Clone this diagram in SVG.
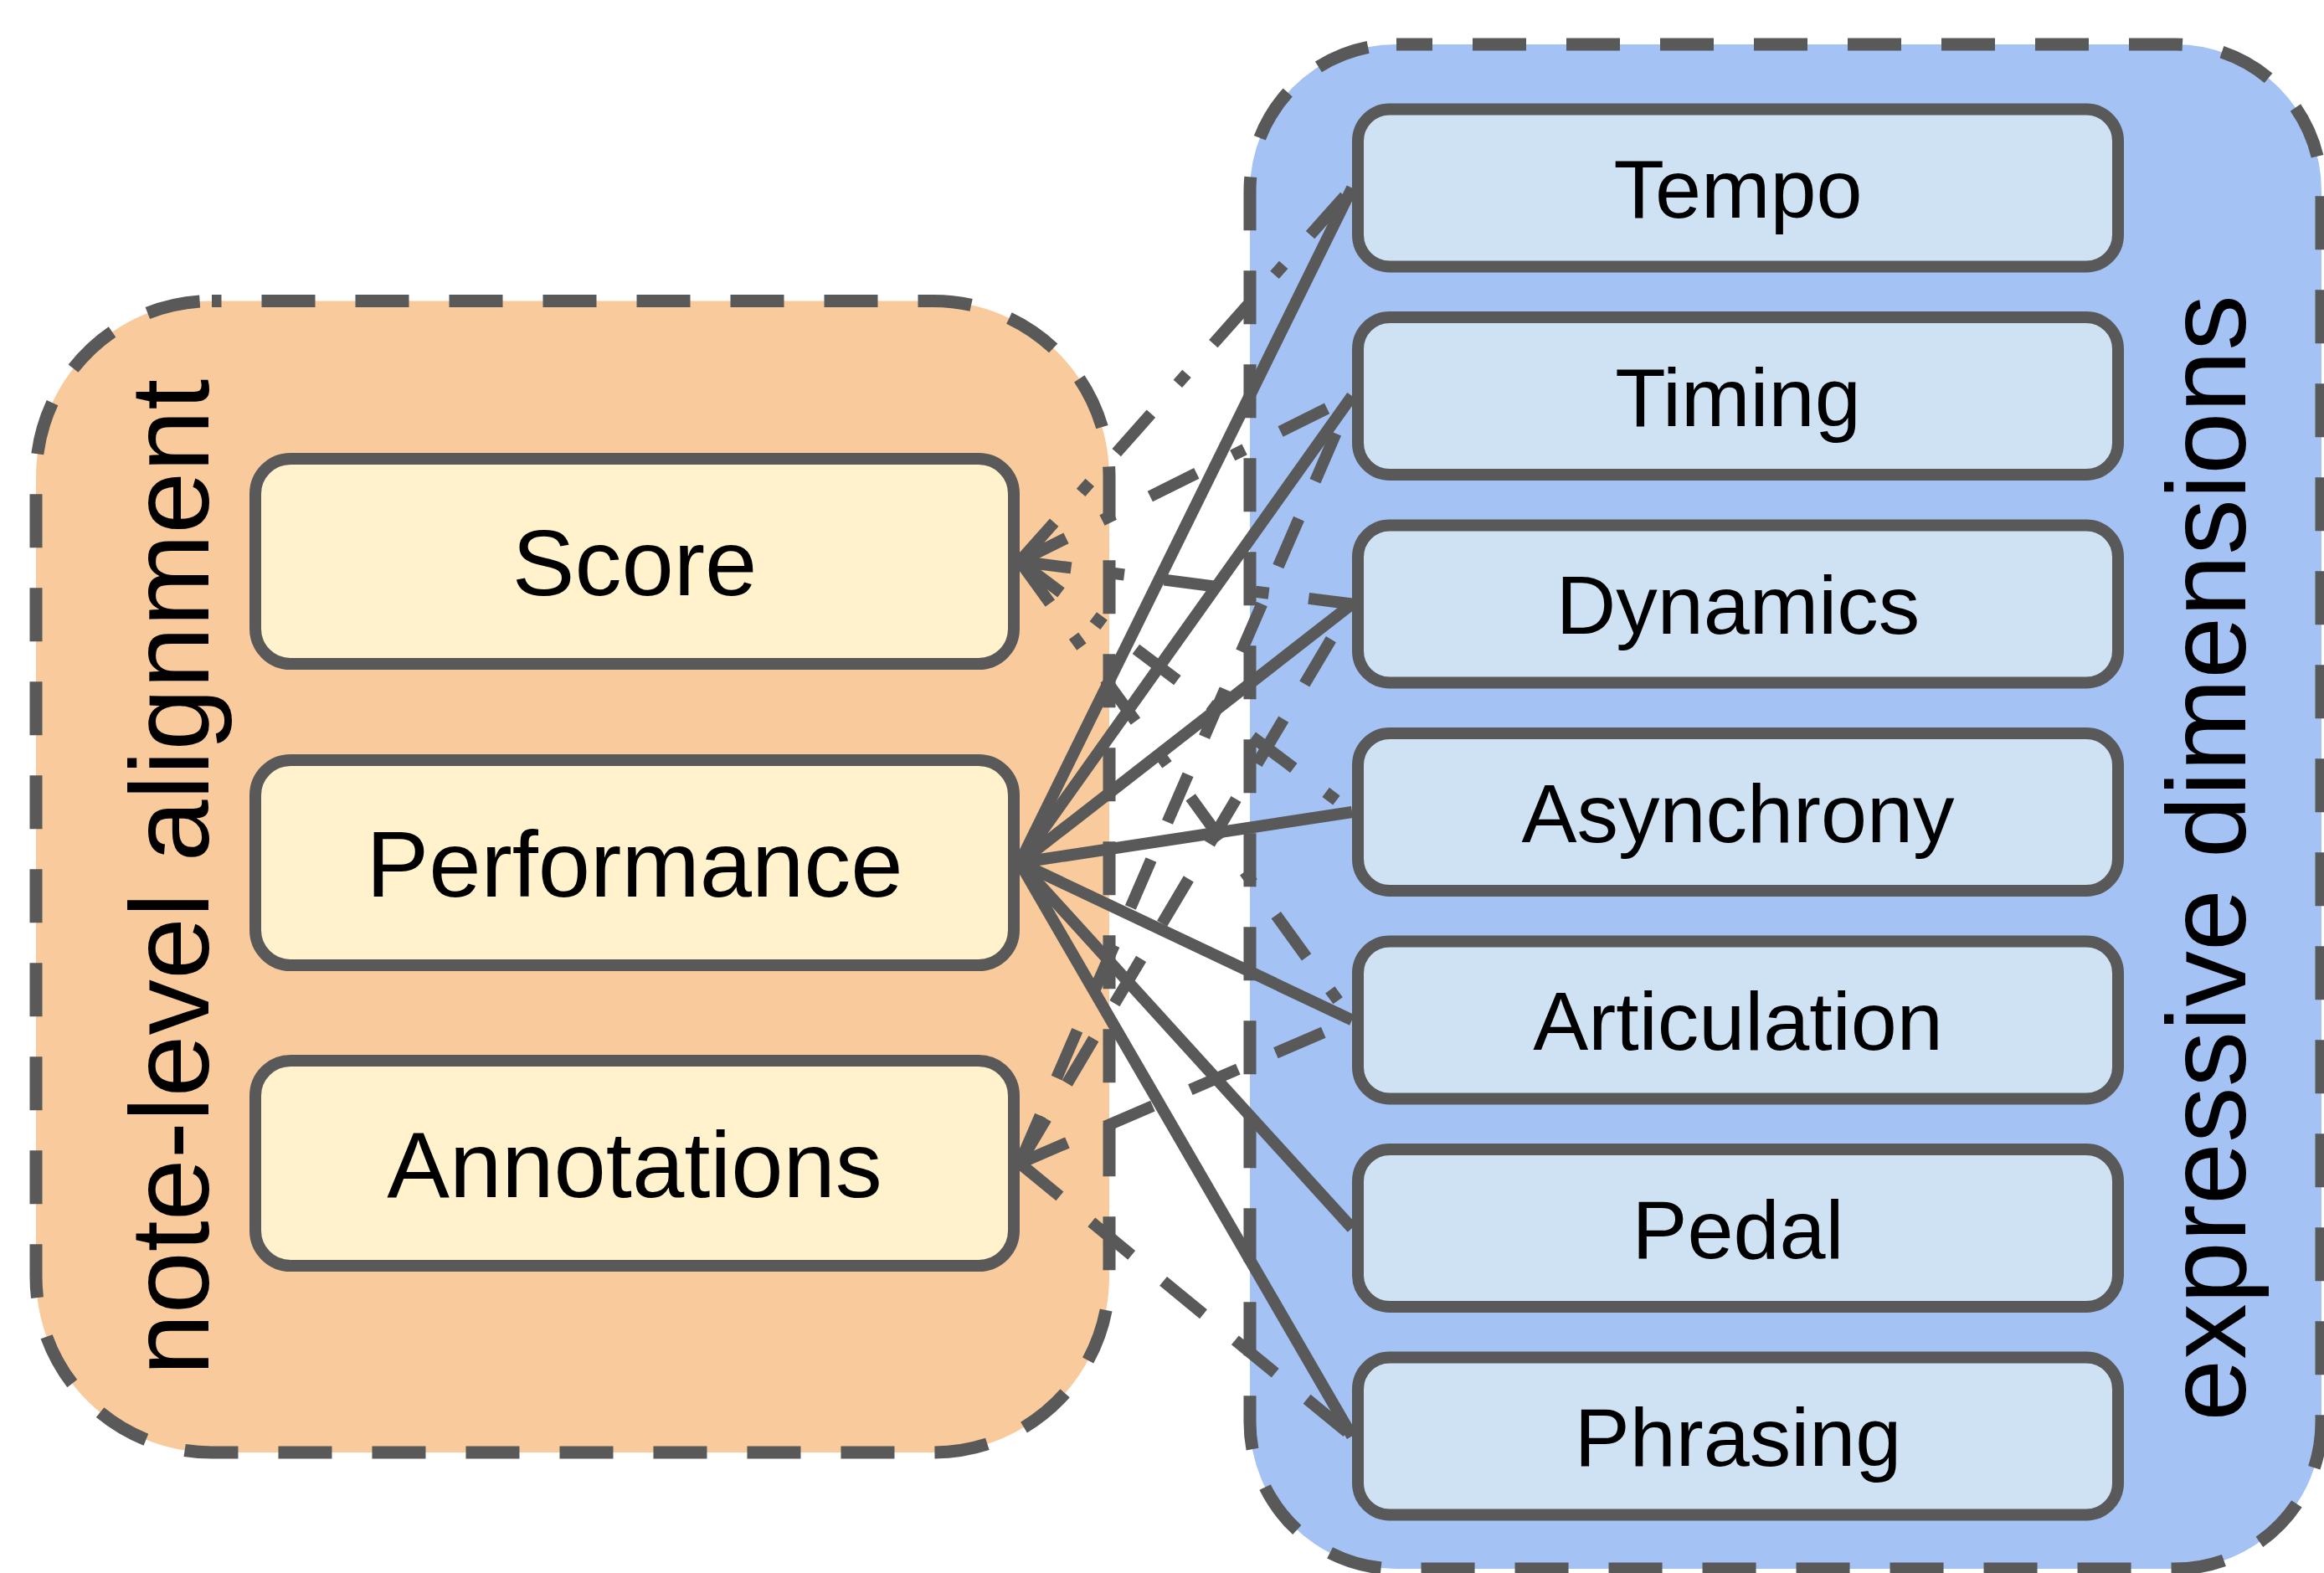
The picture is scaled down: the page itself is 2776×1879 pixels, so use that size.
<svg xmlns="http://www.w3.org/2000/svg" width="2776" height="1879" viewBox="0 0 2776 1879">
<style>
.grp{stroke:#595959;stroke-width:15;stroke-dasharray:64 48;}
.box{stroke:#595959;stroke-width:14;}
.lbox{fill:#fff2cc;}
.rbox{fill:#cfe2f3;}
text{font-family:"Liberation Sans",Arial,Helvetica,sans-serif;fill:#000;text-anchor:middle;}
.lt{font-size:112px;}
.rt{font-size:99px;}
.gt{font-size:133px;}
#edges line{stroke:#595959;stroke-width:14;fill:none;}
#edges .dd{stroke-dasharray:62 48 16 48;}
#edges .da{stroke-dasharray:62 49;}
</style>
<rect width="2776" height="1879" fill="#ffffff"/>
<g id="group-alignment">
<path class="grp" fill="#f9cb9c" stroke-dashoffset="52.5" d="M253 359.5H1115A210 210 0 0 1 1325 569.5V1525A210 210 0 0 1 1115 1735H253A210 210 0 0 1 43 1525V569.5A210 210 0 0 1 253 359.5Z"/>
<text class="gt" transform="translate(249,1048) rotate(-90)">note-level alignment</text>
</g>
<g id="group-dimensions">
<path class="grp" fill="#a4c2f4" stroke-dashoffset="21" d="M1668 53H2598A175 175 0 0 1 2773 228V1699A175 175 0 0 1 2598 1874H1668A175 175 0 0 1 1493 1699V228A175 175 0 0 1 1668 53Z"/>
<text class="gt" transform="translate(2682,1025) rotate(-90)">expressive dimensions</text>
</g>
<g id="edges">
<line x1="1218" y1="1030.5" x2="1615" y2="224.5"/>
<line x1="1218" y1="1030.5" x2="1615" y2="473"/>
<line x1="1218" y1="1030.5" x2="1615" y2="721.5"/>
<line x1="1218" y1="1030.5" x2="1615" y2="970"/>
<line x1="1218" y1="1030.5" x2="1615" y2="1218.5"/>
<line x1="1218" y1="1030.5" x2="1615" y2="1467"/>
<line x1="1218" y1="1030.5" x2="1615" y2="1715.5"/>
<line class="dd" x1="1218" y1="670.5" x2="1615" y2="224.5"/>
<line class="dd" x1="1218" y1="670.5" x2="1615" y2="473"/>
<line class="dd" x1="1218" y1="670.5" x2="1615" y2="721.5"/>
<line class="dd" x1="1218" y1="670.5" x2="1615" y2="970"/>
<line class="dd" x1="1218" y1="670.5" x2="1615" y2="1218.5"/>
<line class="da" x1="1218" y1="1389.5" x2="1615" y2="473"/>
<line class="da" x1="1218" y1="1389.5" x2="1615" y2="721.5"/>
<line class="da" x1="1218" y1="1389.5" x2="1615" y2="1218.5"/>
<line class="da" x1="1218" y1="1389.5" x2="1615" y2="1715.5"/>
</g>
<g id="node-score"><rect class="box lbox" x="305" y="548" width="906" height="245" rx="42"/><text class="lt" x="758" y="711">Score</text></g>
<g id="node-performance"><rect class="box lbox" x="305" y="908" width="906" height="245" rx="42"/><text class="lt" x="758" y="1071">Performance</text></g>
<g id="node-annotations"><rect class="box lbox" x="305" y="1267" width="906" height="245" rx="42"/><text class="lt" x="758" y="1430">Annotations</text></g>
<g id="node-tempo"><rect class="box rbox" x="1622" y="130.5" width="908" height="188" rx="38"/><text class="rt" x="2076" y="260">Tempo</text></g>
<g id="node-timing"><rect class="box rbox" x="1622" y="379" width="908" height="188" rx="38"/><text class="rt" x="2076" y="508.5">Timing</text></g>
<g id="node-dynamics"><rect class="box rbox" x="1622" y="627.5" width="908" height="188" rx="38"/><text class="rt" x="2076" y="757">Dynamics</text></g>
<g id="node-asynchrony"><rect class="box rbox" x="1622" y="876" width="908" height="188" rx="38"/><text class="rt" x="2076" y="1005.5">Asynchrony</text></g>
<g id="node-articulation"><rect class="box rbox" x="1622" y="1124.5" width="908" height="188" rx="38"/><text class="rt" x="2076" y="1254">Articulation</text></g>
<g id="node-pedal"><rect class="box rbox" x="1622" y="1373" width="908" height="188" rx="38"/><text class="rt" x="2076" y="1502.5">Pedal</text></g>
<g id="node-phrasing"><rect class="box rbox" x="1622" y="1621.5" width="908" height="188" rx="38"/><text class="rt" x="2076" y="1751">Phrasing</text></g>
</svg>
